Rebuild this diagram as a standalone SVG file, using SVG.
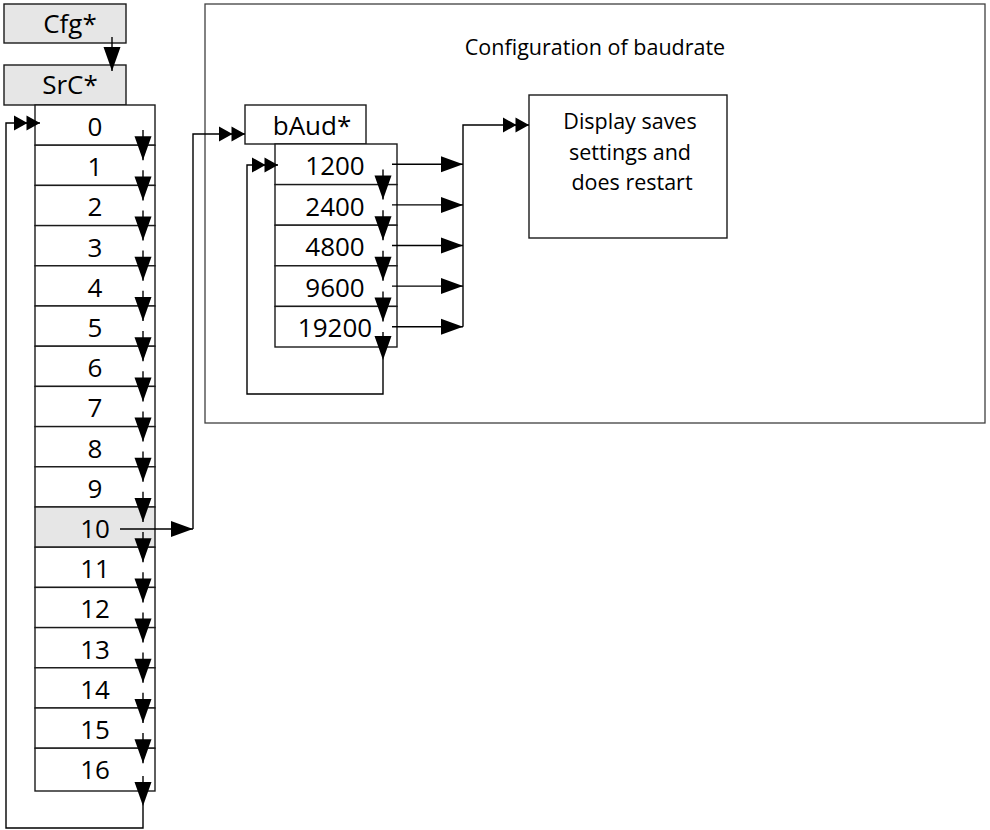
<svg xmlns="http://www.w3.org/2000/svg" width="990" height="830" viewBox="0 0 990 830">
<style>
.box{fill:#ffffff;stroke:#1a1a1a;stroke-width:1.4}
.gray{fill:#e6e6e6;stroke:#1a1a1a;stroke-width:1.4}
.frame{fill:#ffffff;stroke:#404040;stroke-width:1.3}
.t{font-family:"Open Sans","Noto Sans",sans-serif;font-size:26px;fill:#000;text-anchor:middle}
.s{font-family:"Open Sans","Noto Sans",sans-serif;font-size:21.5px;fill:#000;text-anchor:middle}
.c{fill:none;stroke:#000;stroke-width:1.4}
.a{marker-end:url(#arr)}
.v{marker-end:url(#arrv)}
.d{marker-end:url(#dbl)}
</style>
<defs>
<marker id="arr" markerUnits="userSpaceOnUse" markerWidth="23" markerHeight="17" refX="22" refY="8" orient="auto" overflow="visible"><path d="M0,0 L22,8 L0,16 Z" fill="#000"/></marker>
<marker id="arrv" markerUnits="userSpaceOnUse" markerWidth="25" markerHeight="18" refX="24" refY="8.5" orient="auto" overflow="visible"><path d="M0,0 L24,8.5 L0,17 Z" fill="#000"/></marker>
<marker id="dbl" markerUnits="userSpaceOnUse" markerWidth="28" markerHeight="16" refX="26" refY="7.5" orient="auto" overflow="visible"><path d="M0,0 L13.5,7.5 L0,15 Z M12.5,0 L26,7.5 L12.5,15 Z" fill="#000"/></marker>
</defs>
<rect width="990" height="830" fill="#ffffff"/>
<g id="container"><rect class="frame" x="205" y="4" width="780" height="419"/><text class="s" x="595" y="55">Configuration of baudrate</text></g>
<g id="cfg"><rect class="gray" x="4" y="4" width="122" height="39"/><text class="t" x="70" y="33">Cfg*</text></g>
<g id="src"><rect class="gray" x="4" y="65" width="122" height="40"/><text class="t" x="70" y="94">SrC*</text></g>
<g id="row0"><rect class="box" x="35" y="105" width="120" height="40.2"/><text class="t" x="95" y="136">0</text></g>
<g id="row1"><rect class="box" x="35" y="145.2" width="120" height="40.2"/><text class="t" x="95" y="176.2">1</text></g>
<g id="row2"><rect class="box" x="35" y="185.4" width="120" height="40.2"/><text class="t" x="95" y="216.4">2</text></g>
<g id="row3"><rect class="box" x="35" y="225.6" width="120" height="40.2"/><text class="t" x="95" y="256.6">3</text></g>
<g id="row4"><rect class="box" x="35" y="265.8" width="120" height="40.2"/><text class="t" x="95" y="296.8">4</text></g>
<g id="row5"><rect class="box" x="35" y="306" width="120" height="40.2"/><text class="t" x="95" y="337">5</text></g>
<g id="row6"><rect class="box" x="35" y="346.2" width="120" height="40.2"/><text class="t" x="95" y="377.2">6</text></g>
<g id="row7"><rect class="box" x="35" y="386.4" width="120" height="40.2"/><text class="t" x="95" y="417.4">7</text></g>
<g id="row8"><rect class="box" x="35" y="426.6" width="120" height="40.2"/><text class="t" x="95" y="457.6">8</text></g>
<g id="row9"><rect class="box" x="35" y="466.8" width="120" height="40.2"/><text class="t" x="95" y="497.8">9</text></g>
<g id="row10"><rect class="gray" x="35" y="507" width="120" height="40.2"/><text class="t" x="95" y="538">10</text></g>
<g id="row11"><rect class="box" x="35" y="547.2" width="120" height="40.2"/><text class="t" x="95" y="578.2">11</text></g>
<g id="row12"><rect class="box" x="35" y="587.4" width="120" height="40.2"/><text class="t" x="95" y="618.4">12</text></g>
<g id="row13"><rect class="box" x="35" y="627.6" width="120" height="40.2"/><text class="t" x="95" y="658.6">13</text></g>
<g id="row14"><rect class="box" x="35" y="667.8" width="120" height="40.2"/><text class="t" x="95" y="698.8">14</text></g>
<g id="row15"><rect class="box" x="35" y="708" width="120" height="40.2"/><text class="t" x="95" y="739">15</text></g>
<g id="row16"><rect class="box" x="35" y="748.2" width="120" height="42.8"/><text class="t" x="95" y="779.2">16</text></g>
<g id="baud"><rect class="box" x="245" y="105" width="121" height="39"/><text class="t" x="312" y="135">bAud*</text></g>
<g id="b1200"><rect class="box" x="275" y="144" width="122" height="40.6"/><text class="t" x="335" y="175">1200</text></g>
<g id="b2400"><rect class="box" x="275" y="184.6" width="122" height="40.6"/><text class="t" x="335" y="215.6">2400</text></g>
<g id="b4800"><rect class="box" x="275" y="225.2" width="122" height="40.6"/><text class="t" x="335" y="256.2">4800</text></g>
<g id="b9600"><rect class="box" x="275" y="265.8" width="122" height="40.6"/><text class="t" x="335" y="296.8">9600</text></g>
<g id="b19200"><rect class="box" x="275" y="306.4" width="122" height="40.6"/><text class="t" x="335" y="337.4">19200</text></g>
<g id="display"><rect class="box" x="529" y="95" width="198" height="143"/><text class="s" x="630" y="129">Display saves</text><text class="s" x="630" y="160">settings and</text><text class="s" x="632" y="190">does restart</text></g>
<g id="connectors">
<path class="c v" d="M112,37 V71"/>
<path class="c v" d="M143,130 V160.2"/>
<path class="c v" d="M143,170.2 V200.4"/>
<path class="c v" d="M143,210.4 V240.6"/>
<path class="c v" d="M143,250.6 V280.8"/>
<path class="c v" d="M143,290.8 V321"/>
<path class="c v" d="M143,331 V361.2"/>
<path class="c v" d="M143,371.2 V401.4"/>
<path class="c v" d="M143,411.4 V441.6"/>
<path class="c v" d="M143,451.6 V481.8"/>
<path class="c v" d="M143,491.8 V522"/>
<path class="c v" d="M143,532 V562.2"/>
<path class="c v" d="M143,572.2 V602.4"/>
<path class="c v" d="M143,612.4 V642.6"/>
<path class="c v" d="M143,652.6 V682.8"/>
<path class="c v" d="M143,692.8 V723"/>
<path class="c v" d="M143,733 V763.2"/>
<path class="c v" d="M143,776 V806"/>
<path class="c d" d="M143,806 V828 H6 V123 H40"/>
<path class="c a" d="M120,529 H193"/>
<path class="c d" d="M193,529 V134 H245"/>
<path class="c v" d="M383,169.6 V199.6"/>
<path class="c v" d="M383,210.2 V240.2"/>
<path class="c v" d="M383,250.8 V280.8"/>
<path class="c v" d="M383,291.4 V321.4"/>
<path class="c v" d="M383,332 V360"/>
<path class="c d" d="M383,360 V394 H247 V165 H278"/>
<path class="c a" d="M392,164.3 H463"/>
<path class="c a" d="M392,204.9 H463"/>
<path class="c a" d="M392,245.5 H463"/>
<path class="c a" d="M392,286.1 H463"/>
<path class="c a" d="M392,326.7 H463"/>
<path class="c d" d="M463,326.7 V125 H529"/>
</g>
</svg>
